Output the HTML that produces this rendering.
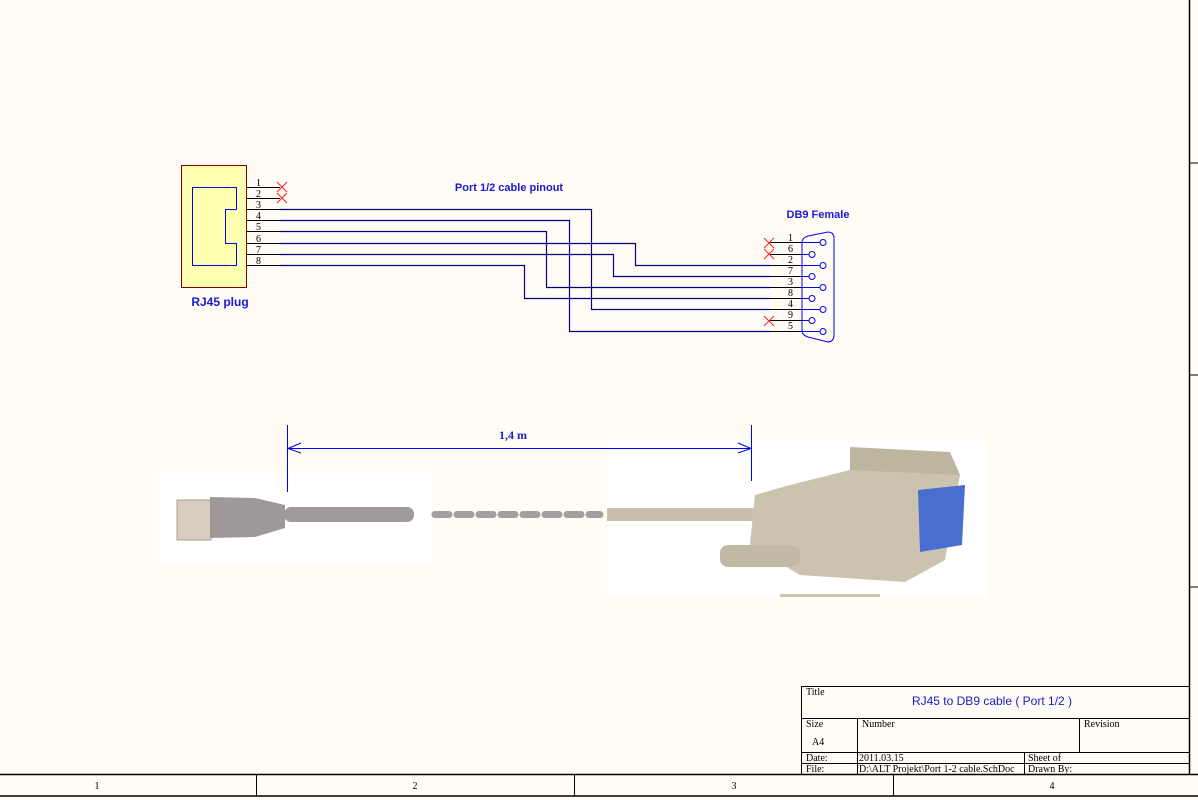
<!DOCTYPE html>
<html><head><meta charset="utf-8"><style>
html,body{margin:0;padding:0;background:#fffbf5;}
svg{display:block;font-family:"Liberation Sans",sans-serif;}
.s{font-family:"Liberation Serif",serif;font-size:10px;fill:#000;}
</style></head><body>
<svg width="1198" height="800" viewBox="0 0 1198 800" xmlns="http://www.w3.org/2000/svg">
<rect width="1198" height="800" fill="#fffbf5"/>
<!-- border -->
<line x1="1189.5" y1="0" x2="1189.5" y2="775" stroke="#000" stroke-width="1.5"/>
<line x1="1189" y1="163" x2="1198" y2="163" stroke="#000"/>
<line x1="1189" y1="375" x2="1198" y2="375" stroke="#000"/>
<line x1="1189" y1="587" x2="1198" y2="587" stroke="#000"/>
<line x1="0" y1="774.5" x2="1198" y2="774.5" stroke="#000" stroke-width="1.5"/>
<line x1="0" y1="796" x2="1198" y2="796" stroke="#000" stroke-width="1.5"/>
<line x1="256.5" y1="775" x2="256.5" y2="796" stroke="#000"/>
<line x1="574.5" y1="775" x2="574.5" y2="796" stroke="#000"/>
<line x1="893.5" y1="775" x2="893.5" y2="796" stroke="#000"/>
<text class="s" x="97" y="789" text-anchor="middle">1</text>
<text class="s" x="415" y="789" text-anchor="middle">2</text>
<text class="s" x="734" y="789" text-anchor="middle">3</text>
<text class="s" x="1052" y="789" text-anchor="middle">4</text>

<!-- title block -->
<g stroke="#000" fill="none">
<rect x="801.5" y="686.5" width="388" height="88"/>
<line x1="801" y1="718.5" x2="1189" y2="718.5"/>
<line x1="801" y1="752.5" x2="1189" y2="752.5"/>
<line x1="801" y1="763.5" x2="1189" y2="763.5"/>
<line x1="857.5" y1="718" x2="857.5" y2="775"/>
<line x1="1079.5" y1="718" x2="1079.5" y2="752"/>
<line x1="1024.5" y1="752" x2="1024.5" y2="775"/>
</g>
<text class="s" x="806" y="695" font-size="9">Title</text>
<text x="992" y="705" text-anchor="middle" font-size="12" fill="#1a1ad0">RJ45 to DB9 cable ( Port 1/2 )</text>
<text class="s" x="806" y="727" font-size="9">Size</text>
<text class="s" x="812" y="745" font-size="9">A4</text>
<text class="s" x="862" y="727" font-size="9">Number</text>
<text class="s" x="1084" y="727" font-size="9">Revision</text>
<text class="s" x="806" y="761" font-size="9">Date:</text>
<text class="s" x="859" y="761" font-size="9">2011.03.15</text>
<text class="s" x="1028" y="761" font-size="9">Sheet    of</text>
<text class="s" x="806" y="772" font-size="9">File:</text>
<text class="s" x="859" y="772" font-size="9">D:\ALT Projekt\Port 1-2 cable.SchDoc</text>
<text class="s" x="1028" y="772" font-size="9">Drawn By:</text>

<!-- RJ45 -->
<rect x="181.5" y="165.5" width="65" height="122" fill="#ffffb0" stroke="#800000"/>
<path d="M192.5 187.5 H236.5 V209.5 H225.5 V243.5 H236.5 V265.5 H192.5 Z" fill="none" stroke="#0000ff"/>
<text x="220" y="306" text-anchor="middle" font-size="12" font-weight="bold" fill="#1a1ad0">RJ45 plug</text>
<g stroke="#000">
<line x1="247" y1="187.5" x2="280" y2="187.5"/>
<line x1="247" y1="198.5" x2="280" y2="198.5"/>
<line x1="247" y1="209.5" x2="280" y2="209.5"/>
<line x1="247" y1="220.5" x2="280" y2="220.5"/>
<line x1="247" y1="231.5" x2="280" y2="231.5"/>
<line x1="247" y1="243.5" x2="280" y2="243.5"/>
<line x1="247" y1="254.5" x2="280" y2="254.5"/>
<line x1="247" y1="265.5" x2="280" y2="265.5"/>
</g>
<g class="s" font-size="9">
<text class="s" x="256" y="186">1</text><text class="s" x="256" y="197">2</text>
<text class="s" x="256" y="208">3</text><text class="s" x="256" y="219">4</text>
<text class="s" x="256" y="230">5</text><text class="s" x="256" y="242">6</text>
<text class="s" x="256" y="253">7</text><text class="s" x="256" y="264">8</text>
</g>
<g stroke="#ff2020">
<path d="M277 182 L287 192 M287 182 L277 192"/>
<path d="M277 193 L287 203 M287 193 L277 203"/>
</g>
<text x="509" y="191" text-anchor="middle" font-size="11" font-weight="bold" fill="#1a1ad0">Port 1/2 cable pinout</text>

<!-- wires -->
<g stroke="#000080" fill="none" stroke-width="1.2">
<path d="M280 209.5 H591.5 V309.5 H770"/>
<path d="M280 220.5 H569.5 V331.5 H770"/>
<path d="M280 231.5 H546.5 V287.5 H770"/>
<path d="M280 243.5 H635.5 V265.5 H770"/>
<path d="M280 254.5 H613.5 V276.5 H770"/>
<path d="M280 265.5 H524.5 V298.5 H770"/>
</g>

<!-- DB9 -->
<text x="818" y="218" text-anchor="middle" font-size="11" font-weight="bold" fill="#1a1ad0">DB9 Female</text>
<g stroke="#000">
<line x1="770" y1="242.5" x2="802" y2="242.5"/>
<line x1="770" y1="254.5" x2="802" y2="254.5"/>
<line x1="770" y1="265.5" x2="802" y2="265.5"/>
<line x1="770" y1="276.5" x2="802" y2="276.5"/>
<line x1="770" y1="287.5" x2="802" y2="287.5"/>
<line x1="770" y1="298.5" x2="802" y2="298.5"/>
<line x1="770" y1="309.5" x2="802" y2="309.5"/>
<line x1="770" y1="320.5" x2="802" y2="320.5"/>
<line x1="770" y1="331.5" x2="802" y2="331.5"/>
</g>
<text class="s" x="788" y="241" font-size="9">1</text>
<text class="s" x="788" y="252" font-size="9">6</text>
<text class="s" x="788" y="263" font-size="9">2</text>
<text class="s" x="788" y="274" font-size="9">7</text>
<text class="s" x="788" y="285" font-size="9">3</text>
<text class="s" x="788" y="296" font-size="9">8</text>
<text class="s" x="788" y="307" font-size="9">4</text>
<text class="s" x="788" y="318" font-size="9">9</text>
<text class="s" x="788" y="329" font-size="9">5</text>
<g stroke="#ff2020">
<path d="M764 238 L774 248 M774 238 L764 248"/>
<path d="M764 249 L774 259 M774 249 L764 259"/>
<path d="M764 316 L774 326 M774 316 L764 326"/>
</g>
<g stroke="#0000ff" fill="none">
<path d="M802 242 Q802 238 808 236 L828 232 Q833 232 834 237 V336 Q833 342 828 342 L808 337 Q802 335 802 331 Z"/>
<line x1="802" y1="242.5" x2="820" y2="242.5"/><circle cx="823" cy="242.5" r="3"/>
<line x1="802" y1="254.5" x2="809" y2="254.5"/><circle cx="812" cy="254.5" r="3"/>
<line x1="802" y1="265.5" x2="820" y2="265.5"/><circle cx="823" cy="265.5" r="3"/>
<line x1="802" y1="276.5" x2="809" y2="276.5"/><circle cx="812" cy="276.5" r="3"/>
<line x1="802" y1="287.5" x2="820" y2="287.5"/><circle cx="823" cy="287.5" r="3"/>
<line x1="802" y1="298.5" x2="809" y2="298.5"/><circle cx="812" cy="298.5" r="3"/>
<line x1="802" y1="309.5" x2="820" y2="309.5"/><circle cx="823" cy="309.5" r="3"/>
<line x1="802" y1="320.5" x2="809" y2="320.5"/><circle cx="812" cy="320.5" r="3"/>
<line x1="802" y1="331.5" x2="820" y2="331.5"/><circle cx="823" cy="331.5" r="3"/>
</g>

<!-- photos -->
<rect x="159" y="471" width="273" height="93" fill="#ffffff"/>
<rect x="607" y="439" width="380" height="158" fill="#ffffff"/>
<!-- rj45 plug photo approximation -->
<rect x="177" y="500" width="34" height="40" fill="#d8ccc0" stroke="#b0a090"/>
<path d="M210 497 L255 498 L285 505 V528 L255 537 L210 538 Z" fill="#9e9898"/>
<rect x="284" y="507" width="130" height="15" rx="7" fill="#a09a9a"/>
<!-- dashes -->
<line x1="435" y1="514.5" x2="600" y2="514.5" stroke="#a0a0a0" stroke-width="7" stroke-dasharray="14 8" stroke-linecap="round"/>
<!-- db9 photo approximation -->
<rect x="607" y="508" width="160" height="13" fill="#c8c0ac"/>
<path d="M755 495 L790 485 L850 470 L935 455 L960 475 L945 560 L905 582 L800 575 L750 545 Z" fill="#cbc3ae"/>
<path d="M850 447 L950 452 L960 475 L850 470 Z" fill="#bdb59e"/>
<rect x="720" y="545" width="80" height="22" rx="8" fill="#c2baa4"/>
<path d="M918 490 L965 485 L962 545 L920 552 Z" fill="#4a6ed0"/>
<rect x="780" y="594" width="100" height="3" fill="#cbc3ae"/>
<!-- dimension -->
<g stroke="#0000ff" fill="none">
<line x1="287.5" y1="425" x2="287.5" y2="492"/>
<line x1="751.5" y1="425" x2="751.5" y2="481"/>
<line x1="287" y1="448.5" x2="751" y2="448.5"/>
<path d="M301 443 L288 448.5 L301 453"/>
<path d="M738 443 L751 448.5 L738 453"/>
</g>
<text x="513" y="439" text-anchor="middle" font-family="Liberation Serif,serif" font-size="12" font-weight="bold" fill="#2020c0">1,4 m</text>
</svg>
</body></html>
